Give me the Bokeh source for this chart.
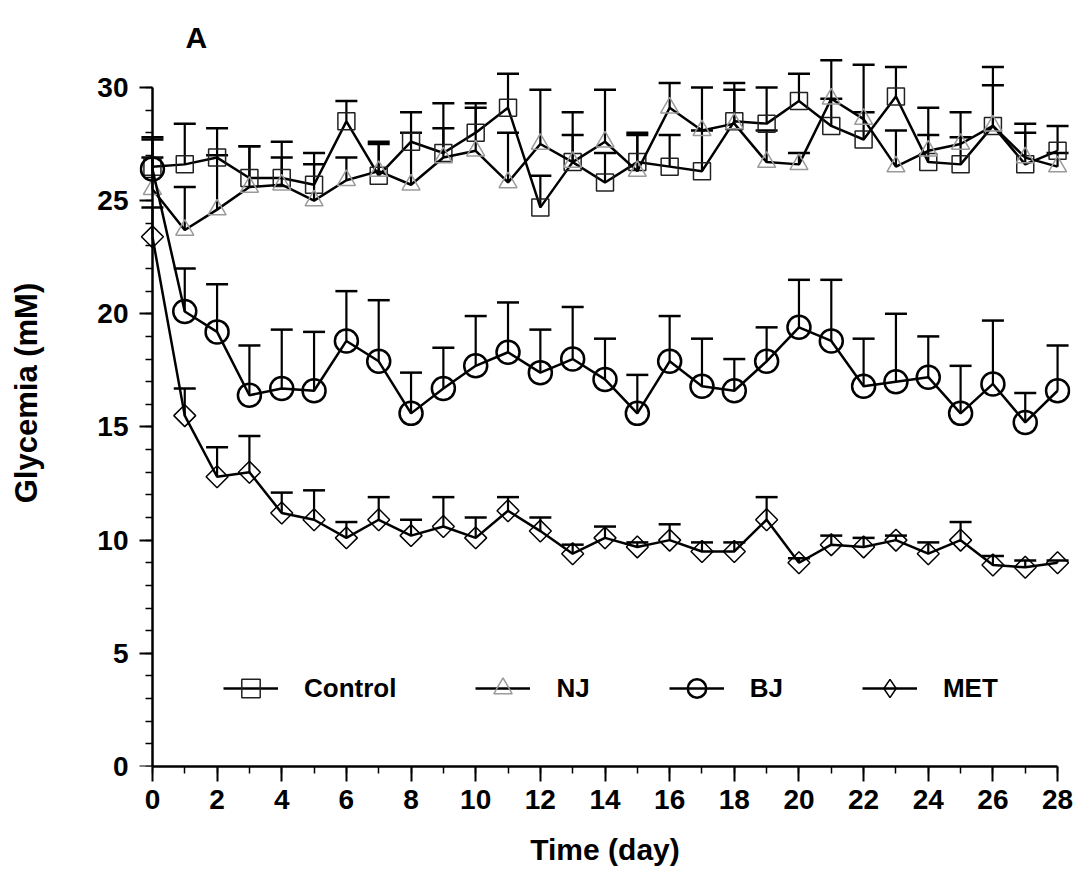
import numpy as np
from bokeh.plotting import figure
from bokeh.models import (Range1d, FixedTicker, Whisker, TeeHead, ColumnDataSource,
                          Legend, LegendItem, Label, LinearAxis)
from bokeh.embed import file_html
from bokeh.resources import INLINE

# ---- data ----
days = list(range(29))
control_mean = [26.5, 26.6, 26.9, 26.0, 26.0, 25.7, 28.5, 26.1, 27.6, 27.1, 28.0, 29.1, 24.7, 26.7, 25.8,
                26.7, 26.5, 26.3, 28.5, 28.4, 29.4, 28.3, 27.7, 29.6, 26.7, 26.6, 28.3, 26.6, 27.2]
control_sem = [1.3, 1.8, 1.3, 1.4, 1.6, 1.4, 0.9, 1.4, 1.3, 1.1, 1.1, 1.5, 1.4, 1.2, 1.3,
               1.2, 1.4, 1.8, 1.7, 1.6, 1.2, 1.2, 3.3, 1.3, 1.2, 2.3, 2.6, 1.4, 1.1]
nj_mean = [25.5, 23.7, 24.6, 25.6, 25.7, 25.0, 25.9, 26.3, 25.7, 26.9, 27.2, 25.8, 27.5, 26.7, 27.6,
           26.3, 29.1, 28.1, 28.4, 26.7, 26.6, 29.5, 28.6, 26.5, 27.2, 27.5, 28.3, 26.9, 26.5]
nj_sem = [2.2, 1.9, 2.4, 1.8, 1.2, 1.6, 1.0, 1.3, 2.3, 2.4, 2.1, 2.2, 2.4, 2.2, 2.3,
          1.7, 1.1, 1.9, 1.5, 1.4, 0.5, 1.7, 0.3, 1.6, 1.9, 0.3, 1.8, 1.5, 0.6]
bj_mean = [26.4, 20.1, 19.2, 16.4, 16.7, 16.6, 18.8, 17.9, 15.6, 16.7, 17.7, 18.3, 17.4, 18.0, 17.1,
           15.6, 17.9, 16.8, 16.6, 17.9, 19.4, 18.8, 16.8, 17.0, 17.2, 15.6, 16.9, 15.2, 16.6]
bj_sem = [0.5, 1.9, 2.1, 2.2, 2.6, 2.6, 2.2, 2.7, 1.8, 1.8, 2.2, 2.2, 1.9, 2.3, 1.8,
          1.7, 2.0, 2.1, 1.4, 1.5, 2.1, 2.7, 2.1, 3.0, 1.8, 2.1, 2.8, 1.3, 2.0]
met_mean = [23.4, 15.5, 12.8, 13.0, 11.2, 10.9, 10.1, 10.9, 10.2, 10.6, 10.1, 11.3, 10.4, 9.4, 10.1,
            9.7, 10.0, 9.5, 9.5, 10.9, 9.0, 9.8, 9.7, 10.0, 9.4, 10.0, 8.9, 8.8, 9.0]
met_sem = [1.3, 1.2, 1.3, 1.6, 0.9, 1.3, 0.7, 1.0, 0.7, 1.3, 0.9, 0.6, 0.6, 0.4, 0.5,
           0.2, 0.7, 0.4, 0.4, 1.0, 0.2, 0.4, 0.4, 0.2, 0.5, 0.8, 0.4, 0.3, 0.1]

series_names = ["Control", "NJ", "BJ", "MET"]
x_ticks = list(range(0, 29, 2))
y_ticks = list(range(0, 31, 5))

FONT = "Liberation Sans"

p = figure(width=1080, height=886, x_range=Range1d(-0.4, 28.4), y_range=Range1d(0, 33),
           output_backend="svg", toolbar_location=None,
           min_border_left=139, min_border_right=10, min_border_top=19, min_border_bottom=120)
p.outline_line_color = None
p.grid.visible = False
p.background_fill_color = "white"

def style_ticks(ax):
    ax.axis_line_width = 2.5
    ax.axis_line_color = "black"
    ax.major_tick_line_width = 2
    ax.minor_tick_line_width = 1.5
    ax.major_tick_out = 15
    ax.major_tick_in = 0
    ax.minor_tick_out = 7
    ax.minor_tick_in = 0

def style_labels(ax):
    ax.major_label_text_font = FONT
    ax.major_label_text_font_style = "bold"
    ax.major_label_text_font_size = "28px"
    ax.major_label_text_color = "black"
    ax.axis_label_text_font = FONT
    ax.axis_label_text_font_style = "bold"
    ax.axis_label_text_color = "black"

# x axis (bottom panel)
xa = p.xaxis[0]
xa.ticker = FixedTicker(ticks=x_ticks, minor_ticks=days)
xa.bounds = (0, 28)
style_ticks(xa)
style_labels(xa)
xa.major_label_standoff = 8
xa.axis_label = "Time (day)"
xa.axis_label_text_font_size = "30px"
xa.axis_label_standoff = 21

# y axis labels (left panel, no line / ticks)
ya = p.yaxis[0]
ya.ticker = FixedTicker(ticks=y_ticks, minor_ticks=[])
ya.bounds = (-1.06, 30)
style_labels(ya)
ya.axis_line_color = None
ya.major_tick_line_color = None
ya.minor_tick_line_color = None
ya.major_tick_out = 0
ya.major_tick_in = 0
ya.major_label_standoff = 11
ya.axis_label = "Glycemia (mM)"
ya.axis_label_text_font_size = "31px"
ya.axis_label_standoff = 50

# y axis line and ticks drawn at x = 0
yline = LinearAxis(ticker=FixedTicker(ticks=y_ticks, minor_ticks=list(range(0, 31))),
                   bounds=(0, 30), fixed_location=0, major_label_text_color=None)
style_ticks(yline)
p.add_layout(yline, "left")

p.add_layout(Label(x=1.36, y=32.2, text="A", text_font_size="30px", text_font=FONT,
                   text_font_style="bold", text_color="black",
                   text_align="center", text_baseline="alphabetic"))

styles = {
    "Control": dict(marker="square", size=17, line_color="#222222", line_width=1.5, angle=0.0),
    "NJ": dict(marker="triangle", size=18, line_color="#9a9a9a", line_width=1.5, angle=0.0),
    "BJ": dict(marker="circle", size=23, line_color="black", line_width=2.5, angle=0.0),
    "MET": dict(marker="square", size=15.5, line_color="black", line_width=1.5, angle=np.pi / 4),
}
data = {"Control": (control_mean, control_sem), "NJ": (nj_mean, nj_sem),
        "BJ": (bj_mean, bj_sem), "MET": (met_mean, met_sem)}

items = []
for name in series_names:
    mean, sem = data[name]
    src = ColumnDataSource(dict(x=days, y=mean, top=[m + s for m, s in zip(mean, sem)]))
    w = Whisker(source=src, base="x", lower="y", upper="top", dimension="height",
                line_color="black", line_width=2.2, lower_head=None,
                upper_head=TeeHead(size=22, line_color="black", line_width=2.5), level="underlay")
    p.add_layout(w)
    lr = p.line("x", "y", source=src, line_color="black", line_width=2.5)
    st = styles[name]
    sr = p.scatter("x", "y", source=src, marker=st["marker"], size=st["size"], angle=st["angle"],
                   fill_color=None, line_color=st["line_color"], line_width=st["line_width"])
    if name == "MET":
        # legend swatch: a diamond (the legend does not rotate markers); hidden in the plot
        sr = p.scatter("x", "y", source=src, marker="diamond", size=st["size"], fill_color=None,
                       line_color=st["line_color"], line_width=st["line_width"], visible=False)
    items.append(LegendItem(label=name, renderers=[lr, sr]))

legend = Legend(items=items, orientation="horizontal", location=(84, 55),
                glyph_width=55, glyph_height=46, label_standoff=26, spacing=79,
                padding=0, margin=0, border_line_color=None, background_fill_alpha=0,
                label_text_font=FONT, label_text_font_style="bold", label_text_font_size="26px",
                label_text_color="black")
p.add_layout(legend)

open("out.html", "w").write(file_html(p, INLINE))
